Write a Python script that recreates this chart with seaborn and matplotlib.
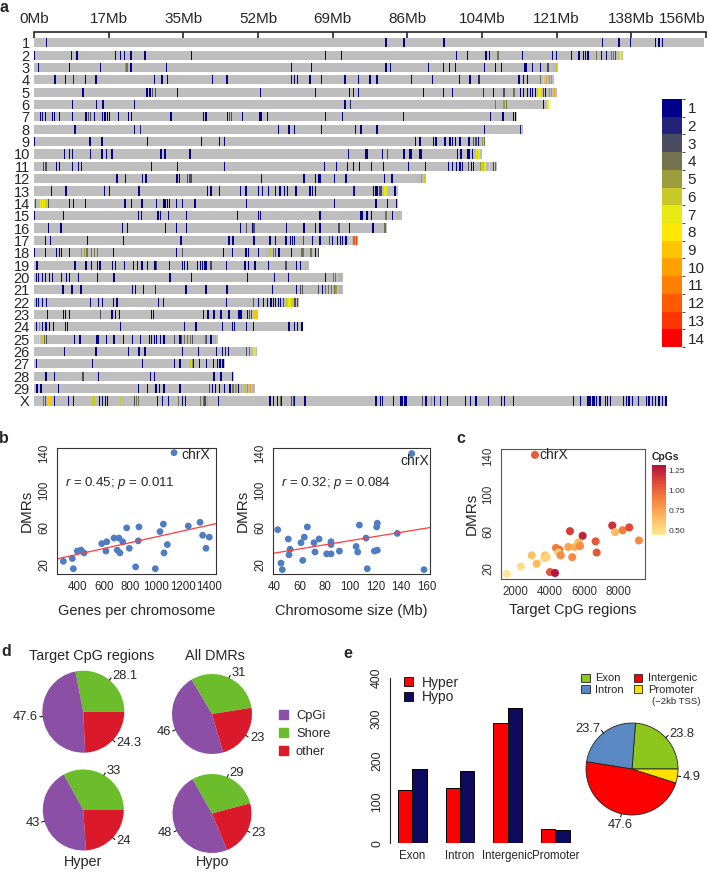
import numpy as np
import pandas as pd
import matplotlib.pyplot as plt
import matplotlib.colors as mcolors
from matplotlib.patches import Patch
import seaborn as sns

# ---------------- data ----------------
chrom_names = [str(i) for i in range(1, 30)] + ["X"]
chrom_len_mb = [155.5, 136.7, 121.6, 120.6, 121.3, 119.5, 112.1, 113.5, 104.6, 103.9,
                107.4, 91.0, 84.5, 84.5, 85.4, 81.9, 75.2, 66.1, 63.8, 71.7,
                71.7, 61.5, 52.0, 62.4, 42.7, 51.7, 44.3, 46.4, 51.3, 146.9]
axis_ticks_mb = [0, 17.33, 34.67, 52, 69.33, 86.67, 104, 121.33, 138.67, 156]
axis_labels = ["0Mb", "17Mb", "35Mb", "52Mb", "69Mb", "86Mb", "104Mb", "121Mb", "138Mb", "156Mb"]

# DMR positions (Mb); plain number = level 1, (pos, level) otherwise
dmr_chr1 = [2.9, 81.7, 85.9, 95.2, 131.9, 135.8, 138.5, 144.3, 145.1, 145.9]
dmr_chr2 = [0.1, 8.7, 10.0, 19.0, 20.0, 21.0, 22.5, 25.8, 36.6, 67.6, 71.4, 98.1, 100.6, 104.9, 105.8,
            (107.7, 4), 113.4, 120.3, 121.3, 124.7, 126.5, 127.5, 128.0, 128.6, (130.6, 4), 131.7, 132.9,
            (134.0, 4), (134.5, 4), (135.0, 3), (135.9, 7), (136.3, 7)]
dmr_chr3 = [1.0, 8.2, 15.5, (21.2, 5), (21.6, 4), 22.5, 30.8, 59.8, 64.4, 81.7, 82.7, 91.5, 95.0, 96.4,
            97.9, 104.6, 107.2, 108.6, 113.8, 114.2, 115.7, 117.6, (119.3, 3), (120.6, 6), (121.2, 6)]
dmr_chr4 = [4.9, 7.3, (9.2, 2), 11.9, 14.4, 27.9, 29.7, 31.0, 41.5, 44.8, 59.8, 60.4, 61.2, 64.1, 66.7,
            72.2, 75.3, 78.0, 79.6, 87.6, 92.5, 98.7, 101.2, (103.3, 2), 112.6, 113.6, 114.5, (117.6, 4),
            (118.2, 7), (119.0, 10), (119.6, 11), (120.2, 11)]
dmr_chr5 = [11.4, 26.2, 26.9, (27.5, 3), (28.2, 3), 33.3, 52.5, 65.4, 73.3, 74.2, 75.3, 90.4, 95.0, 97.1,
            (104.3, 2), 106.6, (109.1, 3), (111.4, 4), 113.0, 113.7, 114.5, 115.2, 115.7, 116.5,
            (117.2, 7), (117.6, 8), (118.2, 3), 118.8, (119.6, 11), (120.2, 11), (120.8, 10)]
dmr_chr6 = [9.0, 14.5, 16.0, 23.3, 72.2, (73.5, 2), (107.2, 4), (108.0, 6), (108.6, 6), (109.1, 5),
            (109.7, 4), 118.3, (118.8, 6), (119.3, 8)]
dmr_chr7 = [1.5, 2.0, 2.6, 4.3, 4.7, 5.9, 9.0, 12.1, (12.6, 3), (13.1, 3), 14.0, 15.9, 16.5, 17.1, 17.6,
            19.6, 21.9, 22.7, 31.8, 39.3, 39.9, 44.9, (45.4, 3), (45.9, 3), 48.4, 52.4, 52.7, 54.2, 67.7,
            71.6, 85.7, 105.9, 108.9, 111.3, 111.8]
dmr_chr8 = [9.5, 23.3, (24.8, 2), 56.7, 59.2, 60.4, 66.7, 74.7, 75.9, 79.6, 104.5, (113.0, 2)]
dmr_chr9 = [0.1, 13.0, 15.8, 26.4, 38.9, 43.0, 44.3, 88.5, 89.6, 92.7, 93.3, 95.4, 96.6, 97.1, 97.8,
            98.9, 101.0, (102.1, 3), (102.6, 3), 103.2, (104.1, 5), (104.5, 4)]
dmr_chr10 = [7.0, 8.2, 9.0, 13.1, 15.8, 16.9, 18.1, 29.5, 30.4, 36.2, 73.0, 77.1, 77.5, 80.9, (82.0, 3),
             85.9, 87.3, 87.7, 89.6, 90.0, 98.3, 99.1, 100.6, 101.0, 101.8, (102.8, 7), (103.3, 7)]
dmr_chr11 = [(2.2, 3), (2.8, 3), 5.3, 5.9, 9.0, 10.3, 11.1, 27.3, 33.3, 44.3, 67.4, 70.3, 72.8, 74.2,
             75.6, 78.4, 81.1, 86.9, 90.9, 96.2, 97.1, 98.1, 98.9, 99.5, (100.8, 3), 101.6, 102.0,
             (103.7, 5), (104.2, 6), (104.7, 7), (105.3, 6), (105.8, 7), (106.7, 14), (107.1, 13)]
dmr_chr12 = [19.3, 21.3, 25.2, 26.0, 33.2, 33.7, (35.7, 3), (36.2, 3), (36.6, 3), 52.8, 62.7, 65.4,
             66.0, 66.4, 69.7, 72.4, 81.3, 83.1, (89.0, 6), (89.5, 6), (90.0, 5), (90.6, 6)]
dmr_chr13 = [4.1, 7.4, 16.3, 17.5, 24.4, 40.3, 41.1, 43.0, 48.0, 49.2, 52.1, 53.0, 54.4, 56.1, 57.1,
             58.1, 58.9, 60.8, 64.1, 64.7, 65.3, (74.1, 2), 74.4, 78.8, 79.4, 79.7, (80.3, 3), (80.7, 3),
             (81.5, 7), (81.9, 7), 83.8]
dmr_chr14 = [(0.3, 3), (1.5, 7), (2.0, 8), (2.5, 7), (2.9, 6), (3.4, 3), 8.2, 9.2, 11.9, 21.1, 22.7,
             25.1, 28.5, 30.2, 30.5, 31.0, 31.4, 33.1, 34.5, 37.4, 49.3, 69.7, 79.4, 82.0, 84.2]
dmr_chr15 = [0.1, 6.8, 24.2, 25.0, 28.8, 29.3, 31.2, 35.4, 47.3, 52.1, 52.5, 66.4, 75.9, 76.3, 77.3,
             78.4, (81.7, 4), 83.2, (84.4, 6), (84.9, 6)]
dmr_chr16 = [3.4, 6.3, 20.6, 21.7, 30.5, 33.1, 35.4, 48.0, (49.3, 3), 50.7, (51.1, 3), 58.6, 62.7, 65.4,
             66.4, (70.8, 3), 73.2, 78.7, (81.5, 4)]
dmr_chr17 = [2.6, 3.8, 12.5, 20.7, 34.1, 45.3, 46.2, 51.1, 54.8, 56.0, 58.5, 59.5, 60.0, 60.4, (62.5, 3),
             64.7, 66.4, (68.6, 3), 69.3, 70.5, 71.1, 71.6, 72.4, (73.3, 8), (73.7, 7), (74.3, 12), (74.9, 13)]
dmr_chr18 = [0.1, 2.6, 5.3, 5.9, 6.4, 8.2, (11.1, 5), (11.7, 5), (12.3, 4), (13.4, 4), (14.0, 4),
             (14.8, 4), 18.5, 33.1, (34.5, 3), 44.0, 46.1, 49.2, 49.8, 52.1, (54.2, 6), (54.8, 6),
             (55.6, 4), (56.1, 3), 56.9, 59.8, (62.2, 4), (62.6, 4), (64.3, 4), 65.4, (66.0, 3)]
dmr_chr19 = [0.7, 9.5, 12.1, 13.4, 14.8, 15.3, 18.3, 19.0, 21.0, 23.1, 24.1, 25.1, 26.4, 28.1, (28.5, 3),
             31.4, 34.5, 34.9, 35.7, 38.0, 38.6, 39.1, 39.5, 39.9, (41.1, 3), 44.7, 49.0, 49.8, 51.3,
             54.4, (58.5, 3), 61.0, 61.8, (63.1, 6), (63.5, 6)]
dmr_chr20 = [0.5, 1.1, 2.0, 2.6, 3.6, 4.3, 6.4, 7.6, 8.2, 10.3, 14.8, 18.6, 31.6, 36.6, 49.6, 55.9, 59.0,
             67.7, (69.6, 4), (70.0, 4), (70.9, 10), (71.4, 10)]
dmr_chr21 = [6.7, 8.8, 10.9, 22.9, 23.5, 25.4, (28.2, 2), 35.3, 39.9, 44.8, 55.4, 61.0, (61.8, 3),
             (62.3, 3), (66.1, 3), 67.0, (67.7, 4), (68.4, 4), (69.1, 4), (69.7, 4), (70.1, 5),
             (70.9, 10), (71.4, 10)]
dmr_chr22 = [0.5, 1.1, 1.9, 2.9, 13.1, 14.9, 15.9, 18.5, 19.3, 28.9, 30.0, 44.7, (50.9, 3), 52.1, 53.2,
             54.2, 55.0, 55.6, 56.1, 56.7, 57.3, (57.9, 3), (58.6, 6), (59.0, 7), (59.4, 7), (59.9, 6),
             (60.6, 3), (61.2, 3)]
dmr_chr23 = [3.2, 6.9, 7.3, 8.2, (15.5, 3), 18.1, 19.0, 19.9, 27.3, 27.8, 39.3, 40.4, 41.8, 43.4, 45.3,
             47.4, 47.8, 48.2, 49.6, (50.0, 3), (50.5, 3), (51.2, 9), (51.7, 9)]
dmr_chr24 = [0.5, (1.2, 5), 2.0, 2.8, 3.6, 4.6, 7.3, 7.7, 20.0, 34.9, 37.6, 43.8, 46.1, 46.5, 49.4, 51.0,
             59.2, 60.4, 61.2, 62.2]
dmr_chr25 = [(0.4, 8), (0.8, 8), (1.2, 8), (1.9, 6), (2.4, 4), (2.9, 3), 9.4, 10.7, 14.6, 15.0, 16.9,
             18.6, 20.8, 22.9, 24.8, 26.8, 27.3, 27.9, 28.5, 29.3, 30.2, (32.6, 3), 33.9, (34.3, 3),
             (34.9, 4), (35.7, 4), (36.3, 4), (36.8, 3), (39.3, 6), (39.8, 4), (40.1, 3), 41.1,
             (41.6, 10), (42.1, 10)]
dmr_chr26 = [7.0, 14.4, 22.0, 24.4, 25.8, 34.5, 38.2, 42.4, 43.8, (44.5, 2), 45.1, (49.3, 3), (50.0, 4),
             (50.9, 7), (51.3, 7)]
dmr_chr27 = [0.5, 13.6, 25.2, 32.6, 33.9, (36.3, 6), (36.8, 5), 37.0, 38.5, 40.1, 41.6, 42.6, 43.2, 43.9]
dmr_chr28 = [2.8, 4.7, (11.4, 3), 14.9, 27.0, 27.9, 41.8, 43.4, 46.0]
dmr_chr29 = [0.7, 1.6, 5.7, 24.3, 26.4, 28.3, 29.1, 30.2, 33.9, (40.7, 3), 41.5, 42.1, 43.0, 44.3, 45.5,
             (46.2, 4), (46.9, 5), 47.4, (48.2, 6), (49.0, 6), (49.6, 5), (50.3, 10), (50.9, 10)]
dmr_chrX = [(2.2, 4), (2.6, 3), (3.5, 9), (3.9, 9), 4.7, 8.0, 9.2, (13.7, 6), (14.1, 6), 15.2, 15.9,
            16.6, 17.1, (20.0, 6), (20.7, 6), (23.3, 3), (23.8, 4), (24.3, 4), 28.7, 29.9, 31.2,
            (33.5, 4), 34.5, 35.1, (38.7, 4), (39.3, 4), (39.7, 3), (40.3, 10), 42.8, 54.8, 55.6, 56.5,
            (57.2, 4), 57.5, (59.8, 3), (60.2, 3), 60.4, 62.9, 79.4, 80.4, 80.9, 83.4, 85.2, 85.5, 86.1,
            86.5, (90.2, 3), 91.0, (92.3, 5), 92.9, 94.4, 96.0, 100.2, 101.4, 102.6, 105.5, 108.6, 109.2,
            111.3, 125.3, 126.8, 128.6, 129.1, 129.6, 130.0, 130.6, 131.4, 132.6, 133.1, 133.9, 136.8,
            137.6, 138.1, 138.9, 140.4, 142.2, 142.8, 143.6, 144.3, 145.1, 145.9, 146.7]
chrom_dmrs = [dmr_chr1, dmr_chr2, dmr_chr3, dmr_chr4, dmr_chr5, dmr_chr6, dmr_chr7, dmr_chr8, dmr_chr9,
              dmr_chr10, dmr_chr11, dmr_chr12, dmr_chr13, dmr_chr14, dmr_chr15, dmr_chr16, dmr_chr17,
              dmr_chr18, dmr_chr19, dmr_chr20, dmr_chr21, dmr_chr22, dmr_chr23, dmr_chr24, dmr_chr25,
              dmr_chr26, dmr_chr27, dmr_chr28, dmr_chr29, dmr_chrX]
level_colors = ["#00008B", "#222278", "#4B4B62", "#73734E", "#9C9C3A", "#C8C826", "#E8E812",
                "#FFE800", "#FFC600", "#FFA200", "#FF8000", "#FF5A00", "#FF3400", "#FF0000"]

# panel b
genes_per_chrom = [294, 362, 370, 400, 428, 451, 585, 623, 617, 678, 716, 703, 723, 744, 774,
                   794, 842, 862, 867, 1027, 1052, 1057, 1082, 991, 1241, 1330, 1350, 1375, 1400, 1133]
dmrs_vs_genes = [24, 27, 16, 35, 36, 33, 43, 45, 35, 49, 49, 36, 33, 45, 60,
                 38, 18, 46, 61, 56, 64, 33, 42, 16, 62, 66, 52, 38, 50, 141]
chrom_size_mb = [42.9, 45.5, 46.5, 51.2, 51.8, 52.6, 61.2, 62.6, 63.8, 66.2, 71.4, 72.2, 75.4, 81.4, 84.8,
                 84.8, 84.8, 91.4, 104.5, 105.8, 107.1, 112.3, 113.3, 118.9, 121.2, 120.7, 121.2, 136.9,
                 157.9, 148.3]
dmrs_vs_size = [58, 22, 15, 48, 31, 37, 44, 25, 50, 61, 44, 34, 48, 32, 32,
                45, 42, 35, 40, 34, 63, 49, 16, 35, 36, 61, 65, 54, 15, 140]

# panel c
target_cpg = [1474, 2292, 2935, 3227, 3654, 3712, 3811, 4005, 4297, 4355, 4548, 4490, 4630, 5074, 5174,
              5308, 5466, 5659, 5717, 5758, 5916, 6675, 6734, 7646, 7804, 8254, 8640, 9206, 3128]
dmrs_vs_cpg = [14, 22, 34, 25, 31, 34, 32, 16, 15, 42, 40, 37, 34, 43, 60,
               32, 43, 48, 47, 44, 55, 49, 37, 66, 59, 61, 64, 50, 142]
cpg_density = [0.45, 0.5, 0.62, 0.66, 0.5, 0.6, 0.55, 1.05, 1.3, 0.9, 0.95, 0.55, 0.85, 0.75, 1.15,
               0.85, 0.7, 0.6, 0.65, 0.85, 1.25, 1.05, 1.05, 1.2, 0.65, 0.9, 1.1, 0.85, 1.02]

# panel d
cpg_classes = ["Shore", "CpGi", "other"]
pie_target = [28.1, 47.6, 24.3]
pie_all = [31, 46, 23]
pie_hyper = [33, 43, 24]
pie_hypo = [29, 48, 23]

# panel e
regions = ["Exon", "Intron", "Intergenic", "Promoter"]
hyper_counts = [129, 134, 291, 34]
hypo_counts = [180, 174, 326, 31]
region_share = [23.8, 23.7, 47.6, 4.9]

# ---------------- style ----------------
sns.set_style("white")
plt.rcParams["font.family"] = ["Liberation Sans", "DejaVu Sans"]
plt.rcParams["mathtext.fontset"] = "custom"
plt.rcParams["mathtext.it"] = "Liberation Sans:italic"
plt.rcParams["mathtext.rm"] = "Liberation Sans"

W, H = 709, 872
fig = plt.figure(figsize=(W / 100, H / 100), dpi=100)


def px_axes(x0, y0, x1, y1):
    return fig.add_axes([x0 / W, 1 - y1 / H, (x1 - x0) / W, (y1 - y0) / H])


def fig_text(x, y, s, **kw):
    fig.text(x / W, 1 - y / H, s, **kw)


for lab, (x, y) in zip("abcde", [(4, 7), (4, 438), (461, 438), (6, 651), (348, 653)]):
    fig_text(x, y, lab, fontsize=11.5, fontweight="bold", ha="center", va="center")

# ---------------- panel a ----------------
ax = px_axes(34, 32, 706, 410)
n = len(chrom_names)
ax.barh(np.arange(n), chrom_len_mb, height=0.74, left=0, color="#BEBEBE", linewidth=0)
for i, marks in enumerate(chrom_dmrs):
    pos = [m[0] if isinstance(m, tuple) else m for m in marks]
    lev = [m[1] if isinstance(m, tuple) else 1 for m in marks]
    ax.bar(pos, 0.74, width=0.3, bottom=i - 0.37, color=[level_colors[l - 1] for l in lev], linewidth=0)
ax.set_xlim(0, 156)
ax.set_ylim(29.73, -0.874)
ax.xaxis.tick_top()
ax.set_xticks(axis_ticks_mb)
ax.set_xticklabels(axis_labels, fontsize=11)
ax.get_xticklabels()[-1].set_ha("right")
ax.set_yticks(np.arange(n))
ax.set_yticklabels(chrom_names, fontsize=10.5)
ax.tick_params(axis="x", direction="in", length=4, width=1.2, pad=4)
ax.tick_params(axis="y", length=0, pad=3)
for s in ["left", "right", "bottom"]:
    ax.spines[s].set_visible(False)
ax.spines["top"].set_linewidth(1.2)

cax = px_axes(662, 99, 682, 347)
cmap_lv = mcolors.ListedColormap(level_colors)
norm_lv = mcolors.BoundaryNorm(np.arange(0.5, 15.5), 14)
cb = fig.colorbar(plt.cm.ScalarMappable(norm=norm_lv, cmap=cmap_lv), cax=cax, ticks=range(1, 15))
cax.invert_yaxis()
cb.outline.set_visible(False)
cax.tick_params(length=0, labelsize=11, pad=4)

# ---------------- panel b ----------------
pt_blue = "#4F7DC2"


def r_style(axb, xt, xlab):
    axb.set_xticks(xt)
    axb.set_yticks([20, 60, 100, 140])
    axb.tick_params(direction="out", length=3, width=0.8, labelsize=8.3, pad=2)
    axb.tick_params(axis="y", labelrotation=90)
    for lbl in axb.get_yticklabels():
        lbl.set_va("center")
    for s in axb.spines.values():
        s.set_linewidth(0.8)
        s.set_color("#333333")
    axb.set_xlabel(xlab, fontsize=10.5, labelpad=8)
    axb.set_ylabel("DMRs", fontsize=11, labelpad=3)


ax_b1 = px_axes(57, 448, 216, 574)
ax_b1.set_xlim(246, 1451)
ax_b1.set_ylim(10.3, 146)
sns.regplot(x=genes_per_chrom, y=dmrs_vs_genes, ax=ax_b1, scatter=False, ci=None, truncate=False,
            line_kws=dict(color="#FF3B3B", lw=0.9))
sns.scatterplot(x=genes_per_chrom, y=dmrs_vs_genes, ax=ax_b1, color=pt_blue, s=24, edgecolor="none")
ax_b1.set_xlim(246, 1451)
ax_b1.set_ylim(10.3, 146)
r_style(ax_b1, range(400, 1401, 200), "Genes per chromosome")
ax_b1.text(0.05, 0.725, r"$r$ = 0.45; $p$ = 0.011", transform=ax_b1.transAxes, fontsize=9.5, va="center")
ax_b1.annotate("chrX", (genes_per_chrom[-1], dmrs_vs_genes[-1]), xytext=(5, -2),
               textcoords="offset points", fontsize=10, va="center")

ax_b2 = px_axes(273, 448, 430, 574)
ax_b2.set_xlim(39.2, 162.6)
ax_b2.set_ylim(10.3, 146)
sns.regplot(x=chrom_size_mb, y=dmrs_vs_size, ax=ax_b2, scatter=False, ci=None, truncate=False,
            line_kws=dict(color="#FF3B3B", lw=0.9))
sns.scatterplot(x=chrom_size_mb, y=dmrs_vs_size, ax=ax_b2, color=pt_blue, s=24, edgecolor="none")
ax_b2.set_xlim(39.2, 162.6)
ax_b2.set_ylim(10.3, 146)
r_style(ax_b2, range(40, 161, 20), "Chromosome size (Mb)")
ax_b2.text(0.05, 0.725, r"$r$ = 0.32; $p$ = 0.084", transform=ax_b2.transAxes, fontsize=9.5, va="center")
ax_b2.annotate("chrX", (chrom_size_mb[-1], dmrs_vs_size[-1]), xytext=(2, -5),
               textcoords="offset points", fontsize=10, va="center", ha="center")

# ---------------- panel c ----------------
cpg_cmap = mcolors.LinearSegmentedColormap.from_list(
    "cpg", ["#FFE998", "#FDBA5C", "#F5843F", "#E04A3A", "#B0123E"])
cpg_norm = mcolors.Normalize(0.437, 1.32)
ax_c = px_axes(500.7, 449.3, 645, 579.3)
sns.scatterplot(x=target_cpg, y=dmrs_vs_cpg, hue=cpg_density, palette=cpg_cmap, hue_norm=cpg_norm,
                s=34, edgecolor="none", legend=False, ax=ax_c)
ax_c.set_xlim(1123, 9561)
ax_c.set_ylim(8.2, 148)
ax_c.set_xticks([2000, 4000, 6000, 8000])
ax_c.set_yticks([20, 60, 100, 140])
ax_c.tick_params(direction="out", length=2.5, width=0.6, color="#333333", labelsize=8.3,
                 labelcolor="#333333", pad=2)
ax_c.tick_params(axis="y", labelrotation=90)
for lbl in ax_c.get_yticklabels():
    lbl.set_va("center")
for s in ax_c.spines.values():
    s.set_linewidth(0.8)
    s.set_color("#555555")
ax_c.set_xlabel("Target CpG regions", fontsize=10.5, labelpad=4)
ax_c.set_ylabel("DMRs", fontsize=11, labelpad=3)
ax_c.annotate("chrX", (target_cpg[-1], dmrs_vs_cpg[-1]), xytext=(3, 0),
              textcoords="offset points", fontsize=10, va="center")

cax_c = px_axes(652.3, 465, 665.7, 535)
cb_c = fig.colorbar(plt.cm.ScalarMappable(norm=cpg_norm, cmap=cpg_cmap), cax=cax_c,
                    ticks=[0.5, 0.75, 1.0, 1.25])
cb_c.outline.set_visible(False)
cb_c.set_ticklabels(["0.50", "0.75", "1.00", "1.25"])
cax_c.tick_params(direction="in", length=2.5, width=0.6, color="white", labelsize=6,
                  labelcolor="#333333", pad=2)
fig_text(652, 456.7, "CpGs", fontsize=7.5, fontweight="bold", va="center")


# ---------------- pies ----------------
def draw_pie(cx, cy, r, values, colors, start, fs, edge=None):
    axp = px_axes(cx - 1.8 * r, cy - 1.8 * r, cx + 1.8 * r, cy + 1.8 * r)
    wedges, _ = axp.pie(values, colors=colors, startangle=start, counterclock=True,
                        wedgeprops=dict(linewidth=0.6 if edge else 0, edgecolor=edge or "none"))
    axp.set_xlim(-1.8, 1.8)
    axp.set_ylim(-1.8, 1.8)
    for w, v in zip(wedges, values):
        a = np.deg2rad((w.theta1 + w.theta2) / 2)
        c, s = np.cos(a), np.sin(a)
        axp.plot([c, 1.07 * c], [s, 1.07 * s], color="black", lw=0.7)
        ha = "left" if c > 0.3 else ("right" if c < -0.3 else "center")
        dy = 0.12 * np.sign(s) if ha == "center" else 0
        axp.text(1.12 * c, 1.12 * s + dy, f"{v:g}", ha=ha, va="center", fontsize=fs)
    return axp


d_colors = ["#6CBD2C", "#8C4FA6", "#DA1A2B"]
draw_pie(83.3, 711.7, 41, pie_target, d_colors, 0, 9.3)
draw_pie(212, 714, 40, pie_all, d_colors, 9, 9.3)
draw_pie(83.3, 810, 40.5, pie_hyper, d_colors, 0, 9.3)
draw_pie(212, 813.5, 39.5, pie_hypo, d_colors, 15, 9.3)
fig_text(92, 656, "Target CpG regions", fontsize=10.4, ha="center", va="center")
fig_text(215, 656, "All DMRs", fontsize=10.4, ha="center", va="center")
fig_text(83, 861.5, "Hyper", fontsize=10.4, ha="center", va="center")
fig_text(213, 861.5, "Hypo", fontsize=10.4, ha="center", va="center")
d_handles = [Patch(color=d_colors[1]), Patch(color=d_colors[0]), Patch(color=d_colors[2])]
fig.legend(d_handles, ["CpGi", "Shore", "other"], loc="upper left",
           bbox_to_anchor=(274 / W, 1 - 705 / H), frameon=False, fontsize=9.3,
           handlelength=0.7, handleheight=0.7, handletextpad=0.6, labelspacing=0.45, borderaxespad=0)

# ---------------- panel e ----------------
bar_df = pd.DataFrame({"Region": regions * 2,
                       "Status": ["Hyper"] * 4 + ["Hypo"] * 4,
                       "DMRs": hyper_counts + hypo_counts})
e_red, e_navy = "#FF0000", "#0E0B5E"
ax_e = px_axes(390, 660, 575, 843.3)
sns.barplot(data=bar_df, x="Region", y="DMRs", hue="Status", palette=[e_red, e_navy], width=0.6,
            saturation=1, edgecolor="black", linewidth=0.7, legend=False, ax=ax_e)
ax_e.set_xlim(-0.47, 3.41)
ax_e.set_ylim(0, 442.5)
ax_e.set_yticks([0, 100, 200, 300, 400])
for s in ["top", "right", "bottom"]:
    ax_e.spines[s].set_visible(False)
ax_e.spines["left"].set_bounds(0, 400)
ax_e.spines["left"].set_linewidth(0.8)
ax_e.tick_params(axis="y", direction="out", length=3, width=0.8, labelsize=8.8, labelrotation=90, pad=2)
for lbl in ax_e.get_yticklabels():
    lbl.set_va("center")
ax_e.tick_params(axis="x", length=0, labelsize=8.3, pad=5)
ax_e.set_xlabel("")
ax_e.set_ylabel("")
fig.legend([Patch(facecolor=e_red, edgecolor="black", lw=0.6), Patch(facecolor=e_navy, edgecolor="black", lw=0.6)],
           ["Hyper", "Hypo"], loc="upper left", bbox_to_anchor=(398 / W, 1 - 670 / H), frameon=False,
           fontsize=10, handlelength=0.65, handleheight=0.65, handletextpad=0.7, labelspacing=0.05,
           borderaxespad=0)

e_colors = ["#8DC71E", "#5A88C2", "#FF0000", "#FFE100"]
draw_pie(632, 769, 46, region_share, e_colors, 0, 9.3, edge="#222222")
fig.legend([Patch(facecolor=c, edgecolor="#222222", lw=0.6) for c in e_colors], regions, ncol=2,
           loc="upper left", bbox_to_anchor=(577 / W, 1 - 669 / H), frameon=False, fontsize=8,
           handlelength=0.75, handleheight=0.75, handletextpad=0.5, labelspacing=0.15,
           columnspacing=0.9, borderaxespad=0)
fig_text(676, 701.7, "(\u22122kb TSS)", fontsize=6.8, ha="center", va="center")

fig.savefig("out.png", dpi=100, facecolor="white")
